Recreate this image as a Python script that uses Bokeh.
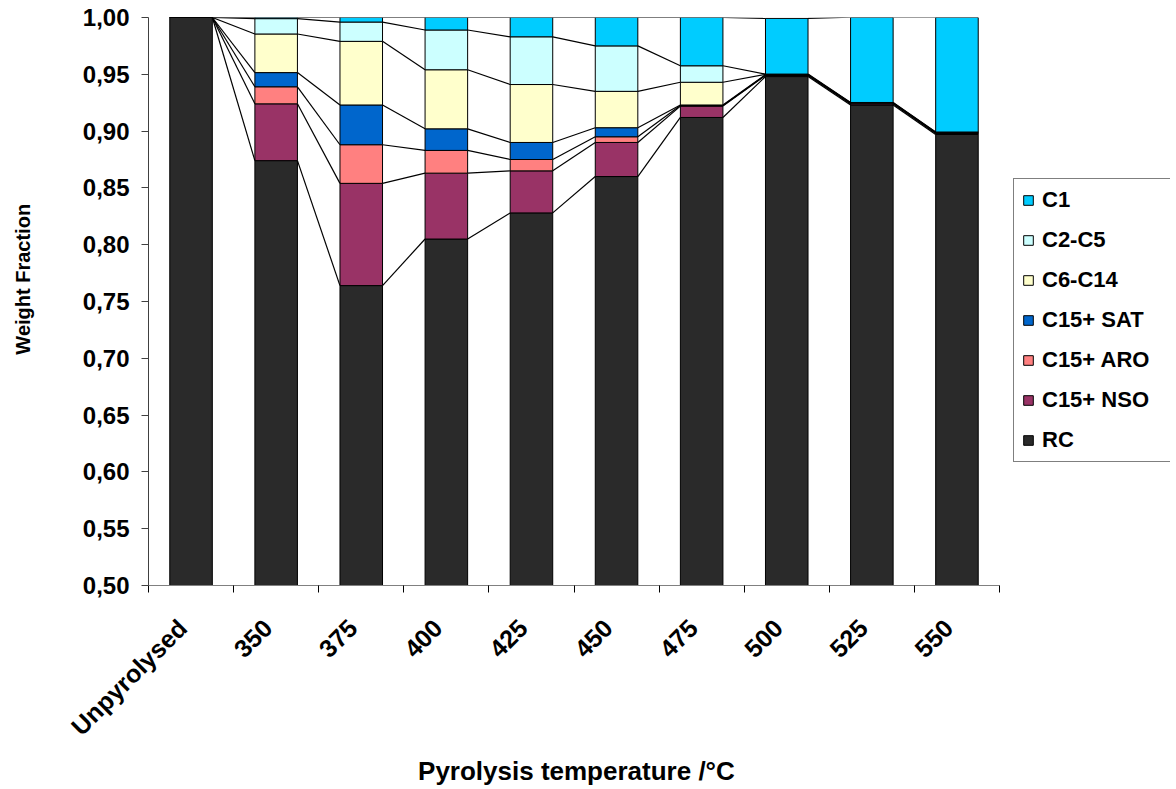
import numpy as np
from bokeh.plotting import figure
from bokeh.models import Range1d, FixedTicker, CustomJSTickFormatter, Legend, LegendItem, Title
from bokeh.embed import file_html
from bokeh.resources import INLINE

categories = ["Unpyrolysed", "350", "375", "400", "425", "450", "475", "500", "525", "550"]
series_names = ["RC", "C15+ NSO", "C15+ ARO", "C15+ SAT", "C6-C14", "C2-C5", "C1"]

rc      = [1.000, 0.874, 0.764, 0.805, 0.828, 0.860, 0.912, 0.948, 0.923, 0.897]
c15_nso = [0.000, 0.050, 0.090, 0.058, 0.037, 0.030, 0.010, 0.001, 0.001, 0.001]
c15_aro = [0.000, 0.015, 0.034, 0.020, 0.010, 0.005, 0.0005, 0.0003, 0.0003, 0.0003]
c15_sat = [0.000, 0.0125, 0.035, 0.019, 0.015, 0.008, 0.0005, 0.0003, 0.0003, 0.0003]
c6_c14  = [0.000, 0.034, 0.056, 0.052, 0.051, 0.032, 0.020, 0.0003, 0.0003, 0.0003]
c2_c5   = [0.000, 0.0135, 0.017, 0.035, 0.042, 0.040, 0.0145, 0.0003, 0.0003, 0.0003]
c1      = [0.000, 0.001, 0.004, 0.011, 0.017, 0.025, 0.0425, 0.049, 0.075, 0.101]

y_ticks = [0.50, 0.55, 0.60, 0.65, 0.70, 0.75, 0.80, 0.85, 0.90, 0.95, 1.00]
x_title = "Pyrolysis temperature /°C"
y_title = "Weight Fraction"

colors = ["#2a2a2a", "#993366", "#FF8080", "#0066CC", "#FFFFCC", "#CCFFFF", "#00CCFF"]
series = [rc, c15_nso, c15_aro, c15_sat, c6_c14, c2_c5, c1]

FONT = "Liberation Sans"
n = len(categories)
xc = np.arange(n) + 0.5
bar_w = 0.5

W, H = 1170, 785
frame_left, frame_right, frame_top, frame_bottom = 148, 999, 17, 586
x_end = n * (W - frame_left) / (frame_right - frame_left)

p = figure(width=W, height=H, output_backend="svg", toolbar_location=None,
           x_range=Range1d(0, x_end), y_range=Range1d(0.5, 1.0))
p.min_border_left = frame_left
p.min_border_right = 0
p.min_border_top = frame_top
p.min_border_bottom = H - frame_bottom
p.outline_line_color = None
p.xgrid.grid_line_color = None
p.ygrid.grid_line_color = None
p.background_fill_color = "white"
p.border_fill_color = "white"

renderers = []
bottom = np.zeros(n)
tops = []
for name, vals, col in zip(series_names, series, colors):
    v = np.array(vals, dtype=float)
    r = p.vbar(x=xc, width=bar_w, bottom=bottom.copy(), top=bottom + v,
               fill_color=col, line_color="black", line_width=1)
    renderers.append((name, r))
    bottom = bottom + v
    tops.append(bottom.copy())

# series lines connecting the tops of each series between neighbouring bars
x0s, y0s, x1s, y1s = [], [], [], []
for t in tops:
    for i in range(n - 1):
        x0s.append(xc[i] + bar_w / 2)
        y0s.append(t[i])
        x1s.append(xc[i + 1] - bar_w / 2)
        y1s.append(t[i + 1])
p.segment(x0=x0s, y0=y0s, x1=x1s, y1=y1s, line_color="black", line_width=1.2)

# x axis
p.xaxis.bounds = (0, n)
p.xaxis.ticker = FixedTicker(ticks=list(xc - 0.1), minor_ticks=list(range(n + 1)))
p.xaxis.formatter = CustomJSTickFormatter(args=dict(cats=categories),
                                          code="return cats[Math.floor(tick)];")
p.xaxis.major_tick_line_color = None
p.xaxis.minor_tick_out = 7
p.xaxis.minor_tick_in = 0
p.xaxis.minor_tick_line_color = "black"
p.xaxis.axis_line_color = "#808080"
p.xaxis.major_label_orientation = np.pi / 4
p.xaxis.major_label_text_font = FONT
p.xaxis.major_label_text_font_style = "bold"
p.xaxis.major_label_text_font_size = "25px"
p.xaxis.major_label_text_color = "black"
p.xaxis.major_label_standoff = 31

# x title centred under the category axis (not the whole frame)
title_px = 26
title_w = 12.18 * title_px * 0.985
tx = Title(text=x_title, align="left",
           offset=(frame_left + frame_right) / 2 - title_w / 2 - frame_left,
           text_font=FONT, text_font_style="bold", text_font_size=f"{title_px}px",
           standoff=0, text_color="black")
p.add_layout(tx, "below")

# y axis
p.yaxis.ticker = FixedTicker(ticks=y_ticks)
p.yaxis.formatter = CustomJSTickFormatter(code="return tick.toFixed(2).replace('.', ',');")
p.yaxis.major_tick_out = 7
p.yaxis.major_tick_in = 0
p.yaxis.minor_tick_line_color = None
p.yaxis.axis_line_color = "#404040"
p.yaxis.major_tick_line_color = "#404040"
p.yaxis.major_label_text_font = FONT
p.yaxis.major_label_text_font_style = "bold"
p.yaxis.major_label_text_font_size = "24px"
p.yaxis.major_label_text_color = "black"
p.yaxis.major_label_standoff = 12
# leading no-break spaces lift the title slightly above the frame centre, as in the reference
p.yaxis.axis_label = "\u00a0" * 8 + y_title
p.yaxis.axis_label_text_font = FONT
p.yaxis.axis_label_text_font_style = "bold"
p.yaxis.axis_label_text_font_size = "20px"
p.yaxis.axis_label_text_color = "black"
p.yaxis.axis_label_standoff = 46

items = [LegendItem(label=name, renderers=[r]) for name, r in reversed(renderers)]
legend = Legend(items=items, location=(1013 - frame_left, frame_bottom - 463))
legend.label_text_font = FONT
legend.label_text_font_style = "bold"
legend.label_text_font_size = "22px"
legend.label_text_color = "black"
legend.glyph_width = 12
legend.glyph_height = 12
legend.label_standoff = 8
legend.label_height = 20
legend.label_width = 175
legend.spacing = 14
legend.padding = 8
legend.margin = 0
legend.border_line_color = "black"
legend.border_line_width = 1
legend.background_fill_alpha = 1
p.add_layout(legend, "center")

open("out.html", "w").write(file_html(p, INLINE))
